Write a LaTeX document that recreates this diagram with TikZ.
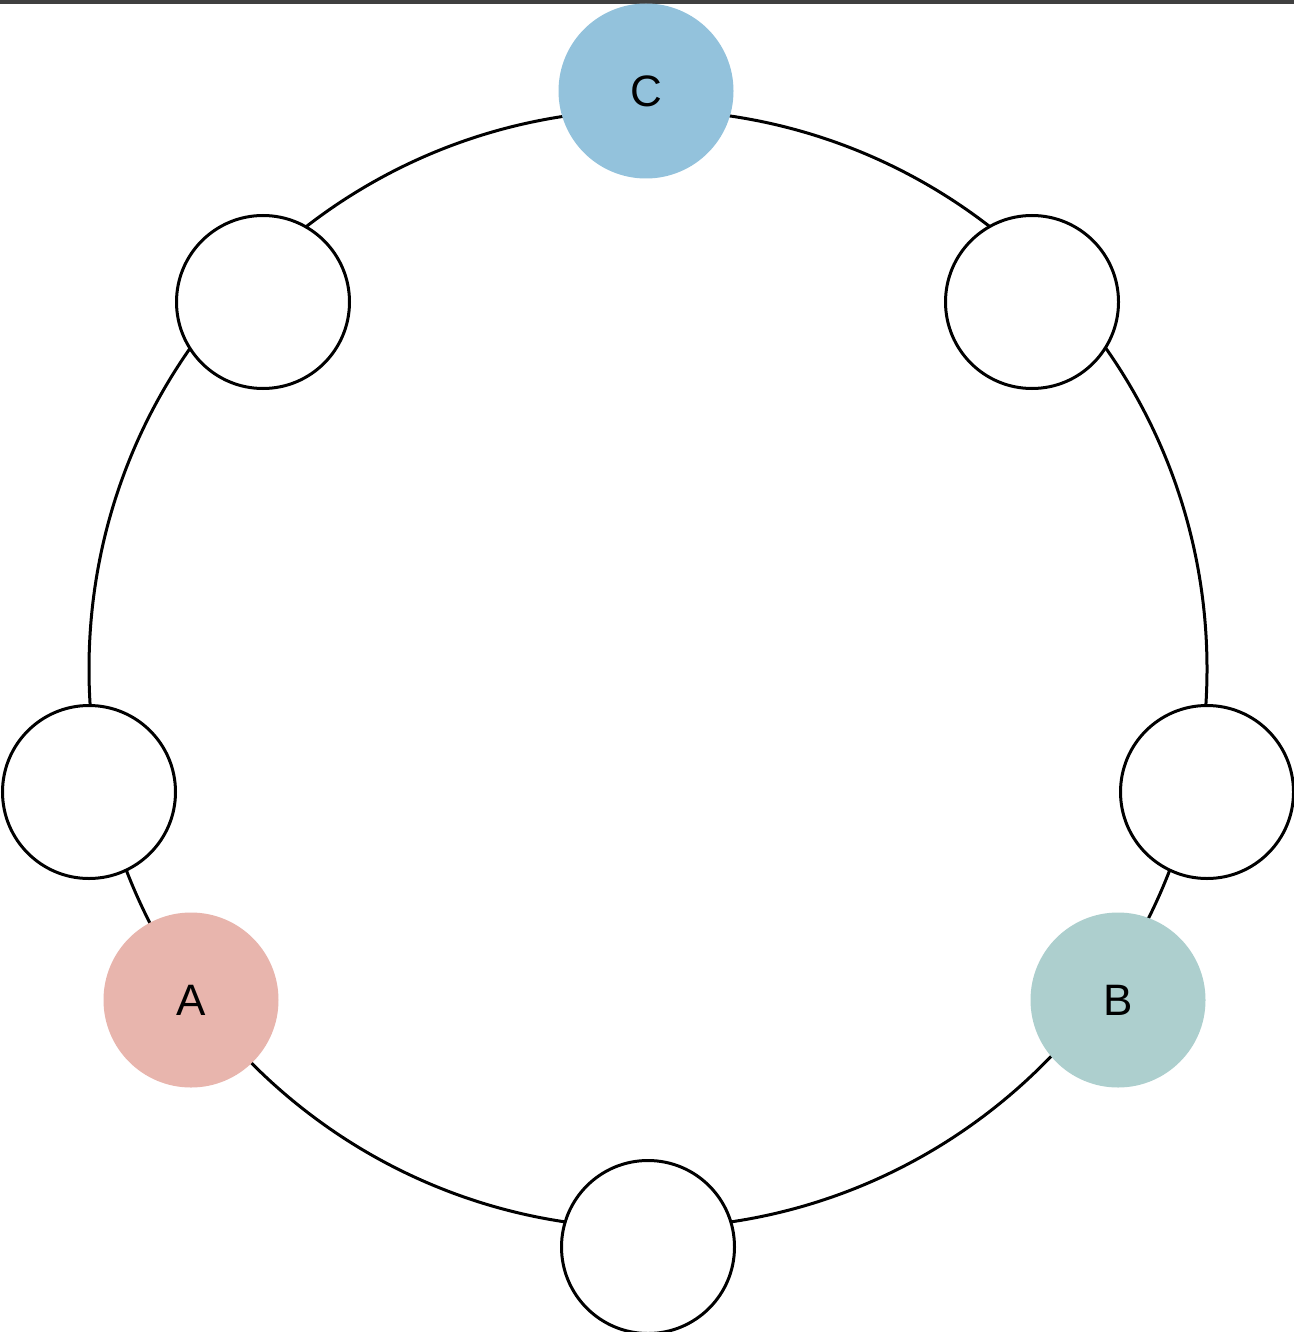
\documentclass[tikz,border=0pt]{standalone}
\usepackage{fontspec}
\setmainfont{Liberation Sans}
\usepackage{tikz}
\usetikzlibrary{positioning}
\definecolor{topbar}{HTML}{404040}
\definecolor{ccol}{HTML}{93C2DC}
\definecolor{acol}{HTML}{E8B5AD}
\definecolor{bcol}{HTML}{ADCFCE}
\tikzset{
  ring/.style={draw=black, line width=1.5pt},
  slot/.style={circle, draw=black, fill=white, line width=1.5pt, minimum size=86.5pt, inner sep=0pt},
  peer/.style={circle, draw=none, minimum size=87.5pt, inner sep=0pt, font=\fontsize{22}{26}\selectfont},
}

\begin{document}
\begin{tikzpicture}[x=0.5pt, y=-0.5pt]
    \useasboundingbox (0,0) rectangle (1294,1332);
    \clip (0,0) rectangle (1294,1332);
    \fill[white] (0,0) rectangle (1294,1332);
    \fill[topbar] (0,0) rectangle (1294,4);

    \coordinate (ctr) at (648,669);
    \draw[ring] (ctr) circle[radius=279.5pt];

    % nodes on the ring
    \node [peer, fill=ccol] (c) at (646,91) {C};
    \node [slot] (s1) at (1032,302) {};
    \node [slot] (s2) at (1207,792) {};
    \node [peer, fill=bcol] (b) at (1118,1000) {B};
    \node [slot] (s3) at (648,1247) {};
    \node [peer, fill=acol] (a) at (191,1000) {A};
    \node [slot] (s4) at (89,792) {};
    \node [slot] (s5) at (263,302) {};
\end{tikzpicture}
\end{document}
